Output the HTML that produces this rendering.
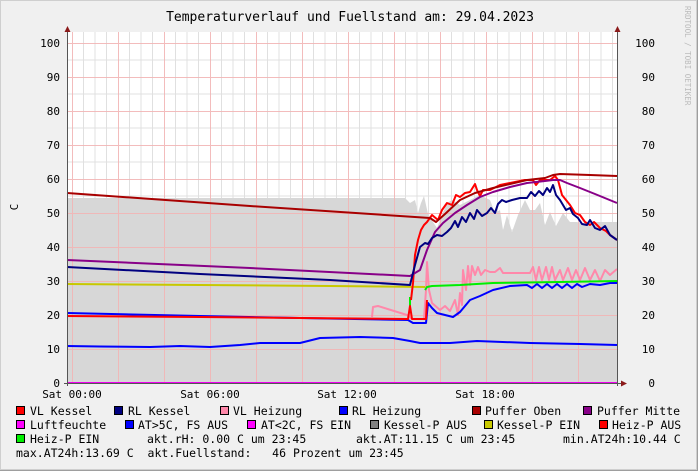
<!DOCTYPE html>
<html><head><meta charset="utf-8"><style>
html,body{margin:0;padding:0;background:#f0f0f0}
svg{display:block}
text{font-family:"DejaVu Sans Mono","Liberation Mono",monospace;fill:#000}
</style></head><body>
<svg width="698" height="471" viewBox="0 0 698 471" xmlns="http://www.w3.org/2000/svg">
<rect x="0" y="0" width="698" height="471" fill="#f0f0f0"/>
<rect x="0.5" y="0.5" width="696" height="469" fill="none" stroke="#cfcfcf"/>
<line x1="0" y1="470.5" x2="698" y2="470.5" stroke="#9e9e9e"/>
<line x1="697.5" y1="0" x2="697.5" y2="471" stroke="#9e9e9e"/>
<rect x="67" y="32" width="550" height="351" fill="#fff"/>
<g stroke="#e0e0e0" stroke-width="1">
<path d="M83.5 32V383M95 32V383M106.5 32V383M129.5 32V383M141 32V383M152.5 32V383M175.5 32V383M187 32V383M198.5 32V383M221.5 32V383M233 32V383M244.5 32V383M267.5 32V383M279 32V383M290.5 32V383M313.5 32V383M325 32V383M336.5 32V383M359.5 32V383M371 32V383M382.5 32V383M405.5 32V383M417 32V383M428.5 32V383M451.5 32V383M463 32V383M474.5 32V383M497.5 32V383M509 32V383M520.5 32V383M543.5 32V383M555 32V383M566.5 32V383M589.5 32V383M601 32V383M612.5 32V383"/>
<path d="M67 366H617M67 332H617M67 298H617M67 264H617M67 230H617M67 196H617M67 162H617M67 128H617M67 94H617M67 60H617"/>
</g>
<path d="M67 383 L67 198 L300 198 L405 198 L410 203 L415 200 L418 213 L421 203 L424 196 L428 214 L433 222 L437 228 L442 215 L447 203 L452 200 L460 205 L470 200 L480 195 L490 200 L495 213 L500 210 L503 230 L507 215 L512 232 L518 215 L525 200 L530 210 L535 210 L540 203 L545 225 L550 212 L556 226 L563 213 L570 222 L577 222 L585 225 L595 222 L605 222 L617 222 L617 383 Z" fill="#d7d7d7"/>
<g stroke="#f2b5b5" stroke-width="1" opacity="0.9">
<path d="M72.5 32V383M118.5 32V383M164.5 32V383M210.5 32V383M256.5 32V383M302.5 32V383M348.5 32V383M394.5 32V383M440.5 32V383M486.5 32V383M532.5 32V383M578.5 32V383"/>
<path d="M67 349.5H617M67 315.5H617M67 281.5H617M67 247.5H617M67 213.5H617M67 179.5H617M67 145.5H617M67 111.5H617M67 77.5H617M67 43.5H617"/>
</g>
<g fill="none" stroke-width="2" stroke-linejoin="round">
<path stroke="#c8c800" d="M67 284 L200 285 L330 286 L427 287"/>
<path stroke="#0000ff" d="M67 346 L100 346.5 L150 347 L180 346 L210 347 L240 345 L260 343 L300 343 L320 338 L360 337 L393 338 L410 341 L420 343 L450 343 L477 341 L530 343 L580 344 L617 345"/>
<path stroke="#ff88aa" d="M372 317 L373 307 L378 306 L407 315 L412 319 L424 319 L426 290 L427 262 L429 290 L432 303 L440 310 L445 306 L450 311 L455 300 L458 315 L460 293 L462 305 L463 270 L466 290 L468 266 L470 285 L472 266 L475 275 L478 267 L481 275 L485 270 L490 272 L495 272 L500 268 L503 273 L530 273 L533 267 L536 280 L539 267 L542 280 L546 267 L549 280 L552 267 L555 280 L560 270 L563 280 L568 268 L572 280 L576 270 L580 280 L585 268 L590 280 L595 270 L600 281 L605 270 L610 275 L617 269"/>
<path stroke="#0000ff" d="M67 313 L200 316 L300 318 L408 320 L413 323 L426 323 L428 303 L432 308 L437 313 L445 315 L453 317 L460 312 L470 300 L480 296 L493 290 L510 286 L527 285 L532 288 L537 284 L542 288 L547 284 L552 288 L557 284 L562 288 L567 284 L572 288 L577 284 L582 287 L590 284 L600 285 L610 283 L617 283"/>
<path stroke="#00ee00" d="M410 310 L410 297 M425 290 L427 287 L432 286 L460 285 L493 283 L560 282 L617 281"/>
<path stroke="#ff0000" d="M67 316 L200 317 L300 318 L408 319 L410 306 L412 319 L426 319 L427 300"/>
<path stroke="#ff0000" d="M411 300 L413 283 L415 255 L418 240 L421 230 L424 225 L427 222 L432 215 L438 220 L442 210 L447 203 L452 205 L456 195 L460 197 L465 193 L470 192 L475 184 L477 190 L480 196 L483 190 L490 190 L500 185 L515 182 L525 180 L533 180 L536 185 L540 180 L545 180 L550 180 L555 176 L558 180 L562 195 L566 200 L570 205 L575 213 L580 215 L585 222 L590 225 L594 222 L600 228 L606 231 L610 235 L617 240"/>
<path stroke="#a80000" d="M67 193 L250 206 L430 218 L436 222 L445 214 L460 200 L475 193 L493 188 L510 184 L527 180 L545 178 L553 175 L560 174 L590 175 L617 176"/>
<path stroke="#880088" d="M67 260 L250 268 L410 276 L415 273 L420 270 L427 250 L435 232 L443 223 L455 213 L467 205 L480 197 L493 192 L510 187 L527 183 L545 181 L553 180 L560 180 L567 183 L580 188 L595 194 L617 203"/>
<path stroke="#000080" d="M67 267 L200 274 L330 280 L410 285 L415 265 L420 247 L425 243 L428 244 L432 238 L437 235 L442 236 L447 232 L451 228 L455 221 L458 227 L462 217 L466 222 L470 213 L474 219 L477 210 L482 216 L487 213 L491 208 L495 213 L498 204 L502 200 L506 202 L512 200 L520 198 L527 198 L531 192 L535 196 L539 191 L543 195 L547 188 L550 192 L553 185 L556 195 L560 200 L563 205 L566 210 L570 208 L573 214 L578 218 L582 224 L587 225 L590 220 L595 228 L600 230 L605 226 L610 235 L617 240"/>
<path stroke="#ee00ee" d="M67 383 L617 383"/>
</g>
<line x1="67.5" y1="30" x2="67.5" y2="386" stroke="#555"/>
<line x1="617.5" y1="30" x2="617.5" y2="386" stroke="#555"/>
<line x1="64" y1="383.5" x2="622" y2="383.5" stroke="#555"/>
<path d="M64.5 32 L67.5 26 L70.5 32 Z M614.5 32 L617.5 26 L620.5 32 Z M621 380.5 L627 383.5 L621 386.5 Z" fill="#8b1a1a"/>
<g font-size="11" text-anchor="end">
<text x="60" y="47">100</text><text x="60" y="81">90</text><text x="60" y="115">80</text><text x="60" y="149">70</text><text x="60" y="183">60</text><text x="60" y="217">50</text><text x="60" y="251">40</text><text x="60" y="285">30</text><text x="60" y="319">20</text><text x="60" y="353">10</text><text x="60" y="387">0</text>
<text x="655" y="47">100</text><text x="655" y="81">90</text><text x="655" y="115">80</text><text x="655" y="149">70</text><text x="655" y="183">60</text><text x="655" y="217">50</text><text x="655" y="251">40</text><text x="655" y="285">30</text><text x="655" y="319">20</text><text x="655" y="353">10</text><text x="655" y="387">0</text>
</g>
<g font-size="11" text-anchor="middle">
<text x="72" y="398">Sat 00:00</text><text x="210" y="398">Sat 06:00</text><text x="347" y="398">Sat 12:00</text><text x="485" y="398">Sat 18:00</text>
</g>
<text x="350" y="21" font-size="13" text-anchor="middle">Temperaturverlauf und Fuellstand am: 29.04.2023</text>
<text transform="translate(18,207) rotate(-90)" font-size="11" text-anchor="middle">C</text>
<text transform="translate(685,6) rotate(90)" font-size="7.5" style="fill:#bbb">RRDTOOL / TOBI OETIKER</text>
<g stroke="#000" stroke-width="1">
<rect x="16.5" y="406.5" width="8" height="8" fill="#ff0000"/>
<rect x="114.5" y="406.5" width="8" height="8" fill="#000080"/>
<rect x="220.5" y="406.5" width="8" height="8" fill="#ff88aa"/>
<rect x="339.5" y="406.5" width="8" height="8" fill="#0000ff"/>
<rect x="472.5" y="406.5" width="8" height="8" fill="#a80000"/>
<rect x="583.5" y="406.5" width="8" height="8" fill="#880088"/>
<rect x="16.5" y="420.5" width="8" height="8" fill="#ff00ff"/>
<rect x="125.5" y="420.5" width="8" height="8" fill="#0000ff"/>
<rect x="247.5" y="420.5" width="8" height="8" fill="#ff00ff"/>
<rect x="370.5" y="420.5" width="8" height="8" fill="#808080"/>
<rect x="484.5" y="420.5" width="8" height="8" fill="#c8c800"/>
<rect x="599.5" y="420.5" width="8" height="8" fill="#ff0000"/>
<rect x="16.5" y="434.5" width="8" height="8" fill="#00ee00"/>
</g>
<g font-size="11.5">
<text x="30" y="415">VL Kessel</text><text x="128" y="415">RL Kessel</text><text x="233" y="415">VL Heizung</text><text x="352" y="415">RL Heizung</text><text x="485" y="415">Puffer Oben</text><text x="597" y="415">Puffer Mitte</text>
<text x="30" y="429">Luftfeuchte</text><text x="138" y="429">AT&gt;5C, FS AUS</text><text x="261" y="429">AT&lt;2C, FS EIN</text><text x="384" y="429">Kessel-P AUS</text><text x="497" y="429">Kessel-P EIN</text><text x="612" y="429">Heiz-P AUS</text>
<text x="30" y="443">Heiz-P EIN</text><text x="147" y="443">akt.rH: 0.00 C um 23:45</text><text x="356" y="443">akt.AT:11.15 C um 23:45</text><text x="563" y="443">min.AT24h:10.44 C</text>
<text x="16" y="457" xml:space="preserve">max.AT24h:13.69 C  akt.Fuellstand:   46 Prozent um 23:45</text>
</g>
</svg>
</body></html>
